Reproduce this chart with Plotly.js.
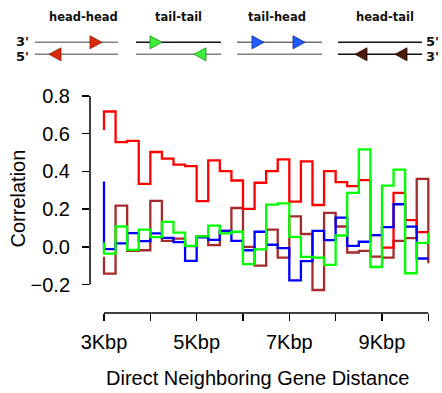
<!DOCTYPE html>
<html>
<head>
<meta charset="utf-8">
<script src="https://cdn.plot.ly/plotly-3.0.1.min.js"></script>
<style>html,body{margin:0;padding:0;background:#fff;}#chart{width:442px;height:393px;}</style>
</head>
<body>
<div id="chart"></div>
<script>
// Bin edges (Kbp); last edge repeated to draw the closing vertical step
const distance = [3, 3.25, 3.5, 3.75, 4, 4.25, 4.5, 4.75, 5, 5.25, 5.5, 5.75, 6, 6.25, 6.5, 6.75, 7, 7.25, 7.5, 7.75, 8, 8.25, 8.5, 8.75, 9, 9.25, 9.5, 9.75, 10, 10];
const headHead = [0.62, 0.718, 0.556, 0.562, 0.334, 0.503, 0.468, 0.436, 0.428, 0.242, 0.459, 0.402, 0.352, 0.201, 0.34, 0.402, 0.464, 0.24, 0.453, 0.222, 0.402, 0.343, 0.322, 0.354, 0.062, -0.004, 0.286, 0.142, 0.078, 0.078];
const tailHead = [0.347, -0.012, 0.018, 0.073, 0.03, 0.071, 0.048, 0.025, -0.075, 0.05, 0.037, 0.085, 0.032, -0.018, 0.08, 0.011, -0.007, -0.178, -0.076, 0.085, 0.036, 0.155, 0.005, 0.027, 0.062, 0.105, 0.226, 0.107, -0.062, -0.062];
const tailTail = [0.023, -0.036, 0.108, -0.016, 0.091, 0.052, 0.132, 0.075, 0.005, 0.055, 0.112, 0.071, 0.08, -0.092, -0.014, 0.224, 0.231, 0.053, -0.053, -0.057, -0.096, 0.06, 0.286, 0.517, -0.107, 0.325, 0.41, -0.14, 0.021, 0.075];
const headTail = [-0.053, -0.142, 0.219, -0.021, -0.018, 0.244, 0.032, 0.044, 0.004, 0.055, 0.009, 0.085, 0.206, 0.0, -0.1, 0.091, -0.057, 0.162, 0.068, -0.229, 0.18, 0.108, -0.03, -0.021, -0.052, -0.057, 0.032, 0.046, 0.361, -0.087];

const xTickVals = [3, 4, 5, 6, 7, 8, 9, 10];
const xTickText = ['3Kbp', '', '5Kbp', '', '7Kbp', '', '9Kbp', ''];
const yTickVals = [-0.2, 0, 0.2, 0.4, 0.6, 0.8];
const orientationNames = ['head-head', 'tail-tail', 'tail-head', 'head-tail'];

// figure geometry
const W = 442, H = 393, ML = 90, MR = 10, MT = 90, MB = 80;
const PW = W - ML - MR, PH = H - MT - MB;
const px = v => (v - ML) / PW;       // pixel x -> paper
const py = v => (H - MB - v) / PH;   // pixel y -> paper

function mk(y, color, name) {
  return {x: distance, y: y, type: 'scatter', mode: 'lines', name: name,
    line: {shape: 'vh', color: color, width: 2.3}, hoverinfo: 'skip'};
}
const traces = [
  mk(headTail, '#A52A2A', orientationNames[3]),
  mk(headHead, '#FF0000', orientationNames[0]),
  mk(tailHead, '#0000FF', orientationNames[2]),
  mk(tailTail, '#00FF00', orientationNames[1])
];

const shapes = [
  {type: 'line', xref: 'x', yref: 'paper', x0: 3, x1: 10, y0: 0, y1: 0, line: {color: '#000', width: 1.5}},
  {type: 'line', xref: 'paper', yref: 'y', x0: 0, x1: 0, y0: -0.2, y1: 0.8, line: {color: '#000', width: 1.5}}
];
function hline(x0, x1, y, color) {
  shapes.push({type: 'line', xref: 'paper', yref: 'paper', x0: px(x0), x1: px(x1), y0: py(y), y1: py(y), line: {color: color, width: 1.4}});
}
function tri(right, baseX, cy, fill, edge) {
  const tipX = right ? baseX + 12 : baseX - 12;
  const p = 'M ' + px(baseX) + ',' + py(cy - 6.5) + ' L ' + px(baseX) + ',' + py(cy + 6.5) + ' L ' + px(tipX) + ',' + py(cy) + ' Z';
  shapes.push({type: 'path', xref: 'paper', yref: 'paper', path: p, fillcolor: fill, line: {color: edge, width: 0.8}});
}
const U = 42.3, L = 54.3;
// head-head
hline(35, 118, U, '#808080'); hline(35, 118, L, '#808080');
tri(true, 90, U, '#D92B0B', '#8a1a05'); tri(false, 61, L, '#D92B0B', '#8a1a05');
// tail-tail
hline(136, 221, U, '#111'); hline(136, 221, L, '#808080');
tri(true, 150, U, '#3CF03C', '#1a8a1a'); tri(false, 206, L, '#3CF03C', '#1a8a1a');
// tail-head
hline(237, 322, U, '#707070'); hline(237, 322, L, '#808080');
tri(true, 252, U, '#1F5BFF', '#0a2a8a'); tri(true, 293, U, '#1F5BFF', '#0a2a8a');
// head-tail
hline(338, 422, U, '#111'); hline(338, 422, L, '#111');
tri(false, 367, L, '#4B1A0A', '#2a0a02'); tri(false, 407, L, '#4B1A0A', '#2a0a02');

const lf = {family: 'DejaVu Sans', size: 11.5, color: '#111'};
const pf = {family: 'DejaVu Sans', size: 13, color: '#111'};
function ann(text, x, y, font, extra) {
  return Object.assign({text: text, xref: 'paper', yref: 'paper', x: px(x), y: py(y), showarrow: false,
    xanchor: 'center', yanchor: 'middle', borderpad: 0, font: font}, extra || {});
}
const annotations = [
  ann('<b>' + orientationNames[0] + '</b>', 83, 17, lf),
  ann('<b>' + orientationNames[1] + '</b>', 178, 17, lf),
  ann('<b>' + orientationNames[2] + '</b>', 277, 17, lf),
  ann('<b>' + orientationNames[3] + '</b>', 385, 17, lf),
  ann("<b>3'</b>", 22, U - 1.5, pf, {height: 12}), ann("<b>5'</b>", 22, L + 1.5, pf, {height: 12}),
  ann("<b>5'</b>", 432, U - 1, pf, {height: 12}), ann("<b>3'</b>", 432, L + 1.5, pf, {height: 12}),
  ann('Direct Neighboring Gene Distance', 257.5, 378, {family: 'Liberation Sans, Arial', size: 20, color: '#000'}),
  ann('Correlation', 17.5, 199, {family: 'Liberation Sans, Arial', size: 20, color: '#000'}, {textangle: -90})
];

const layout = {
  width: W, height: H,
  margin: {l: ML, r: MR, t: MT, b: MB, pad: 0},
  paper_bgcolor: '#fff', plot_bgcolor: '#fff',
  showlegend: false,
  font: {family: 'Liberation Sans, Arial', size: 20, color: '#000'},
  xaxis: {range: [3 - 14 / 46.33, 10 + 3.7 / 46.33], showgrid: false, zeroline: false, showline: false,
    tickmode: 'array', tickvals: xTickVals, ticktext: xTickText, ticks: 'outside', ticklen: 7, tickwidth: 1.5,
    tickcolor: '#000', ticklabelstandoff: 4, tickfont: {size: 20}},
  yaxis: {range: [-0.351, 0.832], showgrid: false, zeroline: false, showline: false,
    tickmode: 'array', tickvals: yTickVals, tickformat: '.1f', ticks: 'outside', ticklen: 7, tickwidth: 1.5,
    tickcolor: '#000', ticklabelstandoff: 8, tickfont: {size: 20}},
  shapes: shapes,
  annotations: annotations
};
Plotly.newPlot('chart', traces, layout, {staticPlot: true, displayModeBar: false});
</script>
</body>
</html>
